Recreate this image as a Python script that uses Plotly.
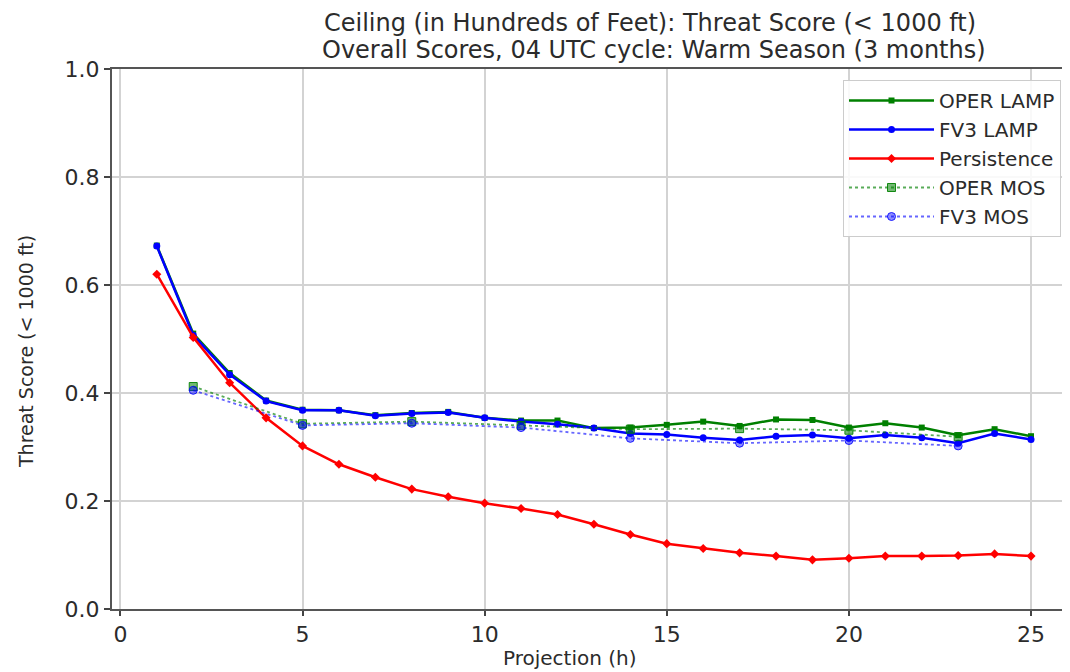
import plotly.graph_objects as go

hours = list(range(1, 26))
mos_hours = [2, 5, 8, 11, 14, 17, 20, 23]

oper_lamp = [0.673, 0.510, 0.437, 0.386, 0.369, 0.368, 0.359, 0.363, 0.365, 0.354,
             0.349, 0.349, 0.335, 0.336, 0.341, 0.347, 0.339, 0.351, 0.350, 0.336,
             0.344, 0.336, 0.322, 0.333, 0.320]
fv3_lamp = [0.672, 0.507, 0.434, 0.385, 0.368, 0.368, 0.358, 0.362, 0.364, 0.354,
            0.347, 0.342, 0.335, 0.325, 0.323, 0.317, 0.313, 0.320, 0.322, 0.316,
            0.322, 0.317, 0.307, 0.325, 0.314]
persistence = [0.620, 0.503, 0.419, 0.354, 0.302, 0.268, 0.244, 0.222, 0.208, 0.196,
               0.186, 0.175, 0.157, 0.138, 0.121, 0.112, 0.104, 0.098, 0.091, 0.094,
               0.098, 0.098, 0.099, 0.102, 0.098]
oper_mos = [0.412, 0.343, 0.347, 0.340, 0.333, 0.334, 0.331, 0.319]
fv3_mos = [0.405, 0.340, 0.344, 0.336, 0.316, 0.307, 0.312, 0.302]

y_ticks = [0.0, 0.2, 0.4, 0.6, 0.8, 1.0]
x_ticks = [0, 5, 10, 15, 20, 25]

title_lines = ["Ceiling (in Hundreds of Feet): Threat Score (< 1000 ft)",
               "Overall Scores, 04 UTC cycle: Warm Season (3 months)"]

FONT = "DejaVu Sans"
TXT = "#2b2b2b"

# page has an 8px body margin: the figure is drawn 8px right/down of the window corner
OFF = 8
W, H = 1070 - OFF, 672 - OFF
L, T = 112 - OFF, 69 - OFF
B = H - (609 - OFF)
R = 0
PH = H - T - B
PW = W - L - R


def py(y):
    return (H - B - (y - OFF)) / PH


def px(x):
    return ((x - OFF) - L) / PW


fig = go.Figure()
fig.add_trace(go.Scatter(x=hours, y=oper_lamp, name="OPER LAMP", mode="lines+markers",
                         line=dict(color="#008000", width=2.5),
                         marker=dict(symbol="square", size=6, color="#008000")))
fig.add_trace(go.Scatter(x=hours, y=fv3_lamp, name="FV3 LAMP", mode="lines+markers",
                         line=dict(color="#0000ff", width=2.5),
                         marker=dict(symbol="circle", size=7, color="#0000ff")))
fig.add_trace(go.Scatter(x=hours, y=persistence, name="Persistence", mode="lines+markers",
                         line=dict(color="#ff0000", width=2.5),
                         marker=dict(symbol="diamond", size=7, color="#ff0000")))
fig.add_trace(go.Scatter(x=mos_hours, y=oper_mos, name="OPER MOS", mode="lines+markers",
                         line=dict(color="rgba(0,128,0,0.65)", width=1.8, dash="dot"),
                         marker=dict(symbol="square", size=8, color="rgba(0,128,0,0.55)",
                                     line=dict(color="rgba(0,128,0,0.9)", width=1))))
fig.add_trace(go.Scatter(x=mos_hours, y=fv3_mos, name="FV3 MOS", mode="lines+markers",
                         line=dict(color="rgba(0,0,255,0.6)", width=1.8, dash="dot"),
                         marker=dict(symbol="circle", size=8, color="rgba(0,0,255,0.45)",
                                     line=dict(color="rgba(0,0,255,0.85)", width=1))))

fig.update_layout(
    width=W, height=H,
    margin=dict(l=L, r=R, t=T, b=B, autoexpand=False),
    paper_bgcolor="white", plot_bgcolor="white",
    font=dict(family=FONT, color=TXT),
    showlegend=True,
    legend=dict(x=px(1061), y=py(80), xanchor="right", yanchor="top",
                bgcolor="rgba(255,255,255,0.85)", bordercolor="#cccccc", borderwidth=1,
                font=dict(size=20, family=FONT, color=TXT),
                itemwidth=85, tracegroupgap=0),
    xaxis=dict(range=[-0.23, 26.07], tickvals=x_ticks, ticks="outside", ticklen=5,
               tickwidth=1.5, tickcolor="#444", showline=True, linecolor="#555",
               linewidth=2, mirror=True, showgrid=True, gridcolor="#d3d3d3",
               gridwidth=1.5, zeroline=False, automargin=False,
               tickfont=dict(size=22, family=FONT, color=TXT)),
    yaxis=dict(range=[0, 1.0], tickvals=y_ticks, tickformat=".1f", ticks="outside",
               ticksuffix="\u00a0",
               ticklen=6, tickwidth=1.5, tickcolor="#444", showline=True,
               linecolor="#555", linewidth=2, showgrid=True, gridcolor="#d3d3d3",
               gridwidth=1.5, zeroline=False, automargin=False,
               tickfont=dict(size=22, family=FONT, color=TXT)),
)

fig.add_annotation(text=title_lines[0], xref="paper", yref="paper",
                   x=px(650), y=py(23), xanchor="center", yanchor="middle",
                   borderpad=0, showarrow=False,
                   font=dict(size=24, family=FONT, color=TXT))
fig.add_annotation(text=title_lines[1], xref="paper", yref="paper",
                   x=px(654), y=py(50), xanchor="center", yanchor="middle",
                   borderpad=0, showarrow=False,
                   font=dict(size=24, family=FONT, color=TXT))
fig.add_annotation(text="Projection (h)", xref="paper", yref="paper",
                   x=px(570), y=py(658), xanchor="center", yanchor="middle",
                   showarrow=False, font=dict(size=20, family=FONT, color=TXT))
fig.add_annotation(text="Threat Score (< 1000 ft)", xref="paper", yref="paper",
                   x=px(26), y=py(352), xanchor="center", yanchor="middle",
                   textangle=-90, showarrow=False,
                   font=dict(size=19, family=FONT, color=TXT))

fig.write_html("out.html")
